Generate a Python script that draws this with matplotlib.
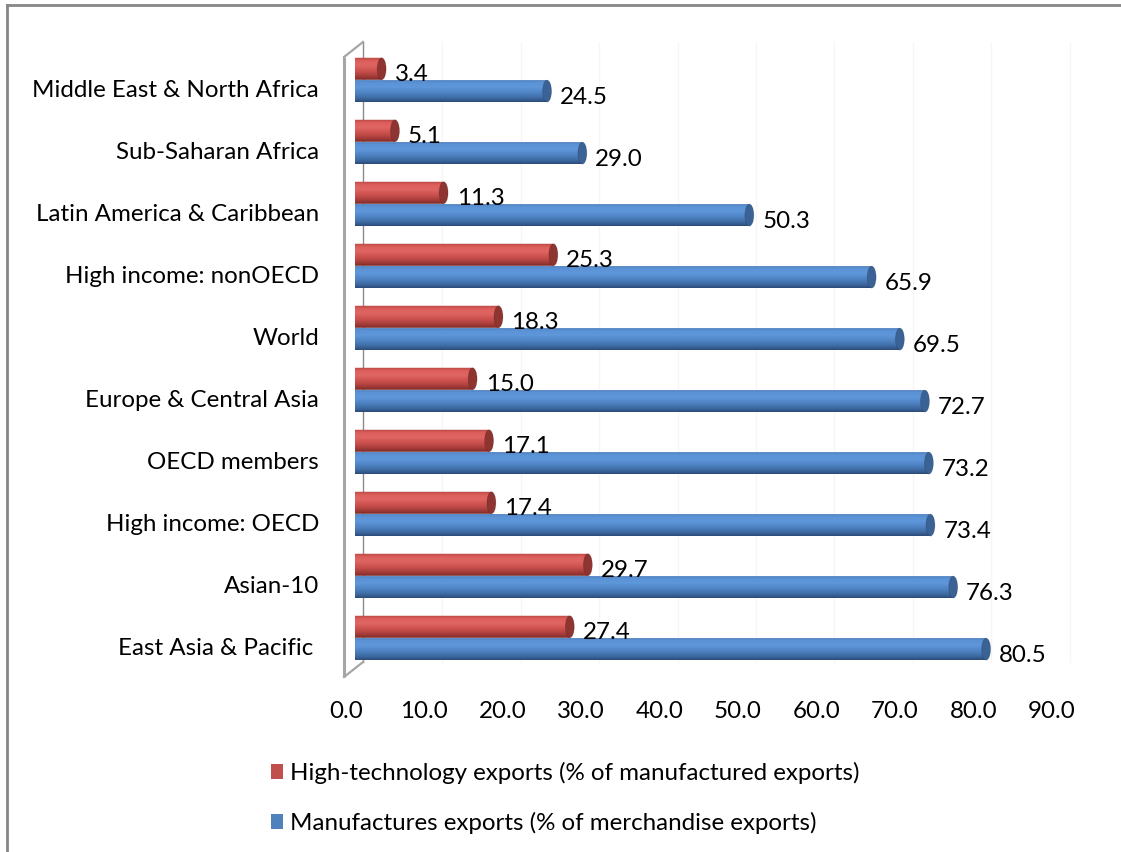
import numpy as np
import matplotlib

matplotlib.use("Agg")
import matplotlib.pyplot as plt
from matplotlib.colors import LinearSegmentedColormap
from matplotlib.lines import Line2D
from matplotlib.patches import Ellipse, Patch, PathPatch
from matplotlib.path import Path
from matplotlib.transforms import ScaledTranslation

# regions listed bottom to top
regions = [
    "East Asia & Pacific ",
    "Asian-10",
    "High income: OECD",
    "OECD members",
    "Europe & Central Asia",
    "World",
    "High income: nonOECD",
    "Latin America & Caribbean",
    "Sub-Saharan Africa",
    "Middle East & North Africa",
]
high_tech = [27.4, 29.7, 17.4, 17.1, 15.0, 18.3, 25.3, 11.3, 5.1, 3.4]
manufactures = [80.5, 76.3, 73.4, 73.2, 72.7, 69.5, 65.9, 50.3, 29.0, 24.5]
x_ticks = np.arange(0, 100, 10)
series_names = [
    "High-technology exports (% of manufactured exports)",
    "Manufactures exports (% of merchandise exports)",
]

W, H, DPI = 1121, 852, 100
FS = 17.4
FONT = "Lato"
plt.rcParams["font.family"] = [FONT, "DejaVu Sans"]

RED = "#C0504D"
BLUE = "#4F81BD"
red_cmap = LinearSegmentedColormap.from_list(
    "red_cyl",
    [(0.0, "#B54542"), (0.15, "#DC5E5B"), (0.35, "#E06663"),
     (0.6, "#CC514E"), (0.85, "#A43B38"), (1.0, "#7A2C2A")],
)
blue_cmap = LinearSegmentedColormap.from_list(
    "blue_cyl",
    [(0.0, "#4A7AB5"), (0.15, "#5C93D6"), (0.35, "#5F97DB"),
     (0.6, "#4F84C4"), (0.85, "#3C689F"), (1.0, "#2C4C78")],
)


def shift(fig, dx, dy):
    return ScaledTranslation(dx / DPI, dy / DPI, fig.dpi_scale_trans)


def cylinder(ax, x_end, yc, h, cmap, cap_color, cap_w, z):
    # body with a rounded back end, gradient clipped to its outline
    t = np.linspace(np.pi / 2, 3 * np.pi / 2, 40)
    left = np.column_stack([cap_w / 2 * np.cos(t), yc + h / 2 * np.sin(t)])
    verts = np.vstack([left, [[x_end, yc - h / 2], [x_end, yc + h / 2]], left[:1]])
    codes = [Path.MOVETO] + [Path.LINETO] * (len(verts) - 2) + [Path.CLOSEPOLY]
    outline = PathPatch(Path(verts, codes), facecolor="none", edgecolor="none")
    ax.add_patch(outline)
    grad = np.linspace(0, 1, 64).reshape(-1, 1)
    im = ax.imshow(
        grad, cmap=cmap, aspect="auto", origin="upper", interpolation="bilinear",
        extent=(-cap_w / 2, x_end, yc - h / 2, yc + h / 2), zorder=z,
    )
    im.set_clip_path(outline)
    ax.add_patch(Ellipse((x_end, yc), cap_w, h, facecolor=cap_color,
                         edgecolor="#00000022", lw=0.6, zorder=z + 0.1))


fig = plt.figure(figsize=(W / DPI, H / DPI), dpi=DPI)
ax = fig.add_axes([355 / W, 1 - 677 / H, 705.6 / W, 620 / H])
ax.set_facecolor("none")
for s in ax.spines.values():
    s.set_visible(False)

xlim = (0, 90)
ylim = (-0.63, 9.37)
px_x = (xlim[1] - xlim[0]) / 705.6
px_y = (ylim[1] - ylim[0]) / 620

ypos = np.arange(len(regions))
bar_h = 0.355
cap_w = 9 * px_x
for i, (ht, mf) in enumerate(zip(high_tech, manufactures)):
    cylinder(ax, ht, ypos[i] + 0.18, bar_h, red_cmap, "#8E3431", cap_w, 3)
    cylinder(ax, mf, ypos[i] - 0.18, bar_h, blue_cmap, "#3A6294", cap_w, 2)
    for v, yc in ((ht, ypos[i] + 0.18), (mf, ypos[i] - 0.18)):
        ax.annotate(f"{v:.1f}", (v, yc), xytext=(13 * 72 / DPI, -12.5 * 72 / DPI),
                    textcoords="offset points", ha="left", va="baseline",
                    fontsize=FS, color="black", zorder=5)

# 3-D wall: back edge, faint back gridlines, front edge and joins
back_dx, back_dy = 9 * px_x, 15 * px_y
front_dx = -11 * px_x
for t in x_ticks[1:]:
    ax.plot([t + back_dx] * 2, [ylim[0] + back_dy, ylim[1] + back_dy],
            color="#F6F6F6", lw=1, clip_on=False, zorder=0.5)
ax.plot([back_dx - px_x] * 2, [ylim[0] + back_dy, ylim[1] + back_dy],
        color="#8A8A8A", lw=1, clip_on=False, zorder=0.6)
ax.plot([front_dx] * 2, list(ylim), color="#A6A6A6", lw=2.2,
        clip_on=False, zorder=4, solid_capstyle="butt")
for yy in ylim:
    ax.plot([front_dx, back_dx - px_x], [yy, yy + back_dy], color="#A6A6A6",
            lw=1.6, clip_on=False, zorder=4)

ax.set_xlim(*xlim)
ax.set_ylim(*ylim)

ax.set_xticks(x_ticks)
ax.set_xticklabels([f"{t:.1f}" for t in x_ticks])
ax.tick_params(axis="x", length=0, pad=17.5, labelsize=FS)
for lbl in ax.get_xticklabels():
    lbl.set_transform(lbl.get_transform() + shift(fig, -9, 0))

ax.set_yticks(ypos)
ax.set_yticklabels(regions)
ax.tick_params(axis="y", length=0, pad=26, labelsize=FS)
for lbl in ax.get_yticklabels():
    lbl.set_va("baseline")
    lbl.set_transform(lbl.get_transform() + shift(fig, 0, -17))

fig.legend(
    handles=[Patch(facecolor=RED), Patch(facecolor=BLUE)],
    labels=series_names,
    loc="upper left",
    bbox_to_anchor=(271 / W, 1 - 762 / H),
    frameon=False,
    fontsize=FS,
    handlelength=0.5,
    handleheight=0.62,
    handletextpad=0.27,
    labelspacing=1.15,
    borderpad=0,
    borderaxespad=0,
)

# chart-area border (runs off the right and bottom edges)
fx = 7 / W
fy = 1 - 4.5 / H
fig.add_artist(Line2D([fx, 1.0], [fy, fy], color="#868686", lw=2))
fig.add_artist(Line2D([fx, fx], [fy, 0.0], color="#868686", lw=2))

fig.savefig("out.png", dpi=DPI, facecolor="white")
